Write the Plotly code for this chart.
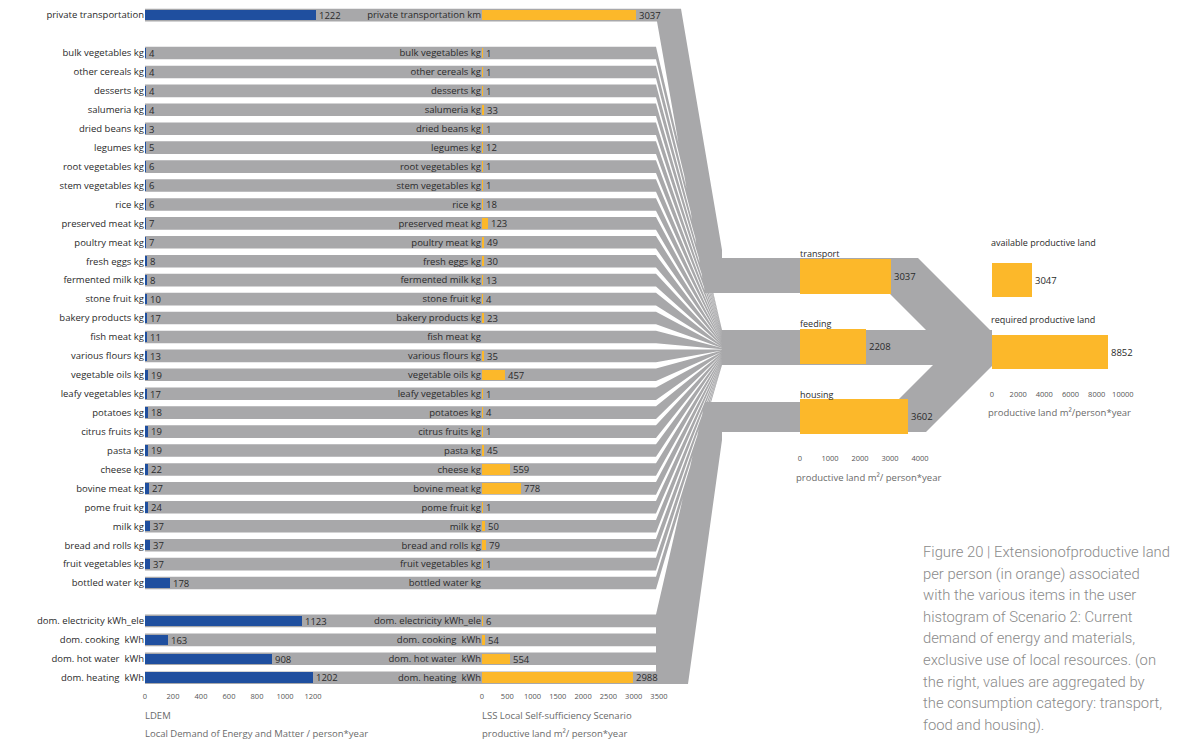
import plotly.graph_objects as go

# page body has an 8px margin: the figure is drawn 8px in from the window corner
OFF = 8
W, H = 1179 - OFF, 748 - OFF

# ---------------- data ----------------
food_items = ["bulk vegetables", "other cereals", "desserts", "salumeria", "dried beans",
              "legumes", "root vegetables", "stem vegetables", "rice", "preserved meat",
              "poultry meat", "fresh eggs", "fermented milk", "stone fruit", "bakery products",
              "fish meat", "various flours", "vegetable oils", "leafy vegetables", "potatoes",
              "citrus fruits", "pasta", "cheese", "bovine meat", "pome fruit", "milk",
              "bread and rolls", "fruit vegetables", "bottled water"]
food_ldem = [4, 4, 4, 4, 3, 5, 6, 6, 6, 7, 7, 8, 8, 10, 17, 11, 13, 19, 17, 18,
             19, 19, 22, 27, 24, 37, 37, 37, 178]
food_lss = [1, 1, 1, 33, 1, 12, 1, 1, 18, 123, 49, 30, 13, 4, 23, None, 35, 457, 1, 4,
            1, 45, 559, 778, 1, 50, 79, 1, None]
energy_items = ["dom. electricity kWh_ele", "dom. cooking  kWh", "dom. hot water  kWh", "dom. heating  kWh"]
energy_ldem = [1123, 163, 908, 1202]
energy_lss = [6, 54, 554, 2988]
transport_ldem_label = "private transportation"
transport_lss_label = "private transportation km"
transport_ldem = 1222
transport_lss = 3037
categories = ["transport", "feeding", "housing"]
category_lss = [3037, 2208, 3602]
land_labels = ["available productive land", "required productive land"]
land_values = [3047, 8852]
ldem_ticks = [0, 200, 400, 600, 800, 1000, 1200]
lss_ticks = [0, 500, 1000, 1500, 2000, 2500, 3000, 3500]
cat_ticks = [0, 1000, 2000, 3000, 4000]
land_ticks = [0, 2000, 4000, 6000, 8000, 10000]

# ---------------- layout constants ----------------
BLUE = "#1f4f9f"
ORANGE = "#fcb82a"
GRAY = "#a8a8aa"
TXT = "#2a2a2a"
AXT = "#6a6a6a"
FONT = "Open Sans"

ROW0, STEP = 53.0, 18.93          # window-pixel centre of first food row, row pitch
BAND = 12.6                        # gray band thickness (px)
transport_row = -2
food_rows = list(range(len(food_items)))
energy_rows = [30 + i for i in range(len(energy_items))]


def py(r):
    return ROW0 + STEP * r


def fx(px):   # window pixel -> paper fraction (x)
    return (px - OFF) / W


def fy(px):   # window pixel -> paper fraction (y)
    return 1 - (px - OFF) / H


# ---------------- gray flow polygons (window-pixel overlay) ----------------
xs, ys = [], []


def poly(pts):
    for (a, b) in pts:
        xs.append(a)
        ys.append(b)
    xs.append(pts[0][0])
    ys.append(pts[0][1])
    xs.append(None)
    ys.append(None)


t = py(transport_row)
poly([(145, t - BAND / 2), (681, t - BAND / 2), (722, 250), (722, 293), (705, 293),
      (657, t + BAND / 2), (145, t + BAND / 2)])
FT, FB = 330.0, 365.0
n = len(food_rows)
for i, r in enumerate(food_rows):
    c = py(r)
    poly([(145, c - BAND / 2), (656, c - BAND / 2), (722, FT + i * (FB - FT) / n),
          (722, FT + (i + 1) * (FB - FT) / n), (656, c + BAND / 2), (145, c + BAND / 2)])
for r in energy_rows:
    c = py(r)
    poly([(145, c - BAND / 2), (662, c - BAND / 2), (662, c + BAND / 2), (145, c + BAND / 2)])
e_top = py(energy_rows[0]) - BAND / 2
e_bot = py(energy_rows[-1]) + BAND / 2
poly([(656, e_top), (705, 402), (722, 402), (722, 440), (688, e_bot), (656, e_bot)])
poly([(722, 258), (918, 258), (992, 332), (992, 362), (958, 362), (889, 293), (722, 293)])
poly([(722, 330), (992, 330), (992, 365), (722, 365)])
poly([(722, 402), (896, 402), (961, 337), (992, 337), (992, 366), (926, 432), (722, 432)])

fig = go.Figure()
fig.add_trace(go.Scatter(x=xs, y=ys, mode="lines", fill="toself", fillcolor=GRAY,
                         line=dict(width=0, color=GRAY), hoverinfo="skip",
                         showlegend=False, xaxis="x", yaxis="y"))

# ---------------- bars ----------------
rows_all = [transport_row] + food_rows + energy_rows
ldem_vals = [transport_ldem] + food_ldem + energy_ldem
lss_vals = [transport_lss] + food_lss + energy_lss
ldem_labels = [transport_ldem_label] + [f + " kg" for f in food_items] + energy_items
lss_labels = [transport_lss_label] + [f + " kg" for f in food_items] + energy_items


def txt(v):
    return "" if v is None else str(v)


common = dict(orientation="h", textposition="outside", cliponaxis=False,
              constraintext="none", showlegend=False, hoverinfo="x+y",
              textfont=dict(family=FONT, size=9.5, color=TXT))

fig.add_trace(go.Bar(x=ldem_vals, y=rows_all, marker=dict(color=BLUE, line=dict(width=0)),
                     width=0.55, text=[txt(v) for v in ldem_vals],
                     xaxis="x2", yaxis="y2", **common))
fig.add_trace(go.Bar(x=lss_vals, y=rows_all, marker=dict(color=ORANGE, line=dict(width=0)),
                     width=0.55, text=[txt(v) for v in lss_vals],
                     xaxis="x3", yaxis="y3", **common))
fig.add_trace(go.Bar(x=category_lss, y=categories, marker=dict(color=ORANGE, line=dict(width=0)),
                     width=0.5, text=[str(v) for v in category_lss],
                     xaxis="x4", yaxis="y4", **common))
fig.add_trace(go.Bar(x=land_values, y=land_labels, marker=dict(color=ORANGE, line=dict(width=0)),
                     width=0.46, text=[str(v) for v in land_values],
                     xaxis="x5", yaxis="y5", **common))

# ---------------- axes ----------------
tickf = dict(family=FONT, size=7.5, color="#555555")
lblf = dict(family=FONT, size=9.5, color=TXT)
r_top = (OFF - ROW0) / STEP
r_bot = (690 - ROW0) / STEP
ydom = [fy(690), 1]

base_x = dict(showgrid=False, zeroline=False, showline=False, ticks="", tickfont=tickf,
              fixedrange=True)
base_y = dict(showgrid=False, zeroline=False, showline=False, ticks="", fixedrange=True)

fig.update_layout(
    xaxis=dict(domain=[0, 1], range=[OFF, OFF + W], visible=False, fixedrange=True),
    yaxis=dict(domain=[0, 1], range=[OFF + H, OFF], visible=False, fixedrange=True),
    xaxis2=dict(domain=[fx(145), fx(327)], range=[0, 1300], anchor="y2",
                tickvals=ldem_ticks, **base_x),
    yaxis2=dict(domain=ydom, range=[r_bot, r_top], anchor="x2", tickvals=rows_all,
                ticktext=ldem_labels, tickfont=lblf, **base_y),
    xaxis3=dict(domain=[fx(482), fx(664)], range=[0, 3600], anchor="y3",
                tickvals=lss_ticks, **base_x),
    yaxis3=dict(domain=ydom, range=[r_bot, r_top], anchor="x3", tickvals=rows_all,
                ticktext=lss_labels, tickfont=lblf, **base_y),
    xaxis4=dict(domain=[fx(800), fx(935)], range=[0, 4500], anchor="y4",
                tickvals=cat_ticks, **base_x),
    yaxis4=dict(domain=[fy(452), fy(241)], type="category",
                categoryorder="array", categoryarray=categories, autorange="reversed",
                anchor="x4", showticklabels=False, **base_y),
    xaxis5=dict(domain=[fx(992), fx(1149)], range=[0, 12000], anchor="y5",
                tickvals=land_ticks, ticktext=[str(v) for v in land_ticks], **base_x),
    yaxis5=dict(domain=[fy(388), fy(244)], type="category",
                categoryorder="array", categoryarray=land_labels, autorange="reversed",
                anchor="x5", showticklabels=False, **base_y),
)

# ---------------- annotations ----------------
ann = []


def note(xp, yp, text, size=9.5, color=TXT, family=FONT, weight=None):
    f = dict(family=family, size=size, color=color)
    if weight:
        f["weight"] = weight
    ann.append(dict(x=fx(xp), y=fy(yp), xref="paper", yref="paper", text=text,
                    showarrow=False, xanchor="left", yanchor="middle", font=f))


note(798, 253, "transport", 9)
note(798, 323, "feeding", 9)
note(798, 394, "housing", 9)
note(989, 243, "available productive land", 9)
note(989, 319, "required productive land", 9)
note(794, 477, "productive land m²/ person*year", 9.5, AXT)
note(986, 412, "productive land m²/person*year", 9.5, AXT)
note(143, 715, "LDEM", 9.5, AXT)
note(143, 733, "Local Demand of Energy and Matter / person*year", 9.5, AXT)
note(480, 715, "LSS Local Self-sufficiency Scenario", 9.5, AXT)
note(480, 733, "productive land m²/ person*year", 9.5, AXT)

caption = ["Figure 20 | Extensionofproductive land",
           "per person (in orange) associated",
           "with the various items in the user",
           "histogram of Scenario 2: Current",
           "demand of energy and materials,",
           "exclusive use of local resources. (on",
           "the right, values are aggregated by",
           "the consumption category: transport,",
           "food and housing)."]
for k, line in enumerate(caption):
    note(921, 552 + 21.6 * k, line, 14.8, "#8a8a8a", "Roboto", 300)

fig.update_layout(
    width=W, height=H, margin=dict(l=0, r=0, t=0, b=0),
    paper_bgcolor="white", plot_bgcolor="rgba(0,0,0,0)",
    template="none", showlegend=False, bargap=0,
    annotations=ann, font=dict(family=FONT, color=TXT),
)

fig.write_html("out.html")
